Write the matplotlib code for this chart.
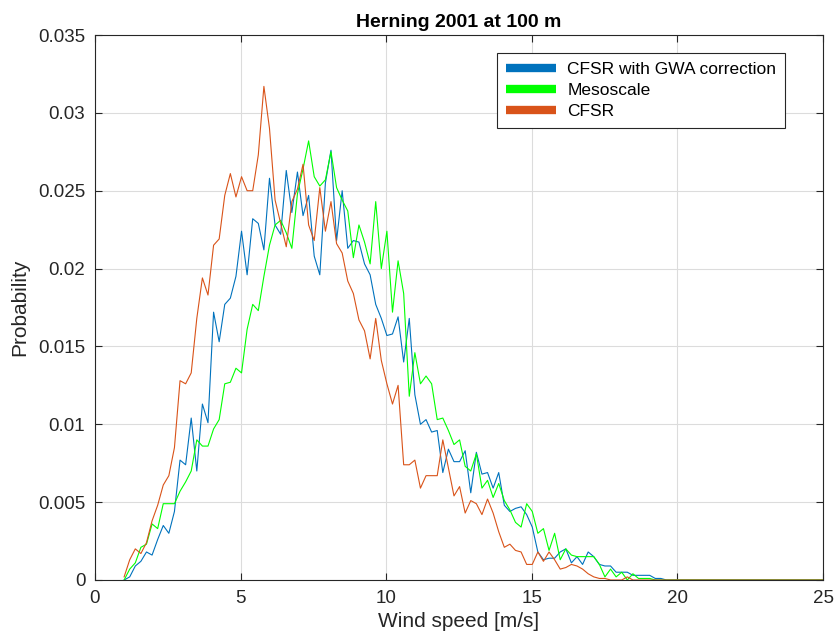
import matplotlib
matplotlib.use('Agg')
import matplotlib.pyplot as plt
import numpy as np

plt.rcParams['font.family'] = ['Liberation Sans', 'DejaVu Sans']

# wind speed bins (m/s)
wind = np.linspace(1, 25, 126)

cfsr_gwa = [0.0, 0.0002, 0.0009, 0.0012, 0.0018, 0.0016, 0.0026, 0.0035, 0.0030, 0.0044, 0.0077, 0.0074, 0.0104, 0.0070, 0.0113, 0.0101,
            0.0172, 0.0153, 0.0177, 0.0181, 0.0195, 0.0224, 0.0196, 0.0232, 0.0229, 0.0212, 0.0258, 0.0228, 0.0222, 0.0263, 0.0236, 0.0262,
            0.0234, 0.0247, 0.0208, 0.0196, 0.0255, 0.0276, 0.0218, 0.0250, 0.0213, 0.0218, 0.0217, 0.0203, 0.0196, 0.0177, 0.0168, 0.0157,
            0.0158, 0.0169, 0.0140, 0.0168, 0.0119, 0.0100, 0.0103, 0.0095, 0.0096, 0.0069, 0.0084, 0.0076, 0.0076, 0.0083, 0.0056, 0.0082,
            0.0068, 0.0069, 0.0059, 0.0069, 0.0048, 0.0044, 0.0046, 0.0047, 0.0042, 0.0034, 0.0018, 0.0013, 0.0014, 0.0014, 0.0018, 0.0020,
            0.0011, 0.0015, 0.0010, 0.0018, 0.0015, 0.0010, 0.0009, 0.0009, 0.0005, 0.0005, 0.0005, 0.0003, 0.0003, 0.0003, 0.0003, 0.0001,
            0.0001, 0.0] + [0.0] * 28

mesoscale = [0.0, 0.0007, 0.0011, 0.0021, 0.0023, 0.0036, 0.0033, 0.0049, 0.0049, 0.0049, 0.0057, 0.0063, 0.0070, 0.0090, 0.0086, 0.0086,
             0.0097, 0.0103, 0.0126, 0.0127, 0.0136, 0.0133, 0.0161, 0.0177, 0.0173, 0.0195, 0.0215, 0.0228, 0.0231, 0.0223, 0.0213, 0.0248,
             0.0264, 0.0282, 0.0259, 0.0253, 0.0257, 0.0275, 0.0252, 0.0244, 0.0237, 0.0207, 0.0228, 0.0217, 0.0203, 0.0243, 0.0200, 0.0224,
             0.0172, 0.0205, 0.0184, 0.0118, 0.0146, 0.0126, 0.0131, 0.0126, 0.0103, 0.0104, 0.0096, 0.0087, 0.0090, 0.0073, 0.0070, 0.0081,
             0.0059, 0.0064, 0.0053, 0.0062, 0.0051, 0.0045, 0.0037, 0.0034, 0.0049, 0.0044, 0.0030, 0.0033, 0.0019, 0.0030, 0.0013, 0.0020,
             0.0016, 0.0015, 0.0015, 0.0015, 0.0015, 0.0010, 0.0002, 0.0007, 0.0002, 0.0005, 0.0, 0.0004, 0.0001, 0.0001, 0.0001] + [0.0] * 31

cfsr = [0.0002, 0.0013, 0.0020, 0.0017, 0.0024, 0.0038, 0.0048, 0.0061, 0.0067, 0.0085, 0.0128, 0.0126, 0.0133, 0.0168, 0.0194, 0.0183,
        0.0215, 0.0219, 0.0247, 0.0261, 0.0246, 0.0259, 0.0250, 0.0250, 0.0273, 0.0317, 0.0290, 0.0244, 0.0229, 0.0214, 0.0243, 0.0251,
        0.0267, 0.0228, 0.0218, 0.0252, 0.0224, 0.0243, 0.0216, 0.0210, 0.0192, 0.0184, 0.0167, 0.0160, 0.0142, 0.0168, 0.0141, 0.0126,
        0.0113, 0.0125, 0.0074, 0.0074, 0.0077, 0.0059, 0.0067, 0.0067, 0.0067, 0.0090, 0.0072, 0.0054, 0.0060, 0.0043, 0.0051, 0.0049,
        0.0042, 0.0052, 0.0043, 0.0031, 0.0021, 0.0023, 0.0019, 0.0018, 0.0010, 0.0010, 0.0018, 0.0012, 0.0018, 0.0013, 0.0007, 0.0008,
        0.0010, 0.0009, 0.0007, 0.0004, 0.0002, 0.0001, 0.0001, 0.0, 0.0, 0.0, 0.0002, 0.0] + [0.0] * 34

labels = ['CFSR with GWA correction', 'Mesoscale', 'CFSR']
colors = ['#0072BD', '#00FF00', '#D95319']

fig = plt.figure(figsize=(8.35, 6.41), dpi=100)
ax = fig.add_axes([95/835, 61/641, 728/835, 545/641])

for y, lab, c in zip([cfsr_gwa, mesoscale, cfsr], labels, colors):
    ax.plot(wind, y, color=c, linewidth=0.8, label=lab)

ax.set_xlim(0, 25)
ax.set_ylim(0, 0.035)
ax.set_xticks(np.arange(0, 26, 5))
ax.set_yticks(np.arange(0, 0.0351, 0.005))
ax.set_yticklabels(['0', '0.005', '0.01', '0.015', '0.02', '0.025', '0.03', '0.035'])
ax.grid(True, color='#dcdcdc', linewidth=0.8)
ax.set_axisbelow(True)
ax.tick_params(direction='in', top=True, right=True, labelsize=13.5, colors='#262626', length=5, pad=7)
for s in ax.spines.values():
    s.set_color('#262626')
    s.set_linewidth(0.8)

ax.set_xlabel('Wind speed [m/s]', fontsize=15, color='#262626', labelpad=4)
ax.set_ylabel('Probability', fontsize=15, color='#262626', labelpad=6)
ax.set_title('Herning 2001 at 100 m', fontsize=14, fontweight='bold', pad=6)

leg = ax.legend(loc='upper right', bbox_to_anchor=(0.948, 0.967), borderaxespad=0, fontsize=12.5,
                fancybox=False, edgecolor='#262626', framealpha=1, handlelength=2.9,
                borderpad=0.5, labelspacing=0.35, handletextpad=0.65)
leg.get_frame().set_linewidth(0.8)
for line in leg.get_lines():
    line.set_linewidth(6)
    line.set_solid_capstyle('butt')

fig.savefig('out.png', dpi=100)
